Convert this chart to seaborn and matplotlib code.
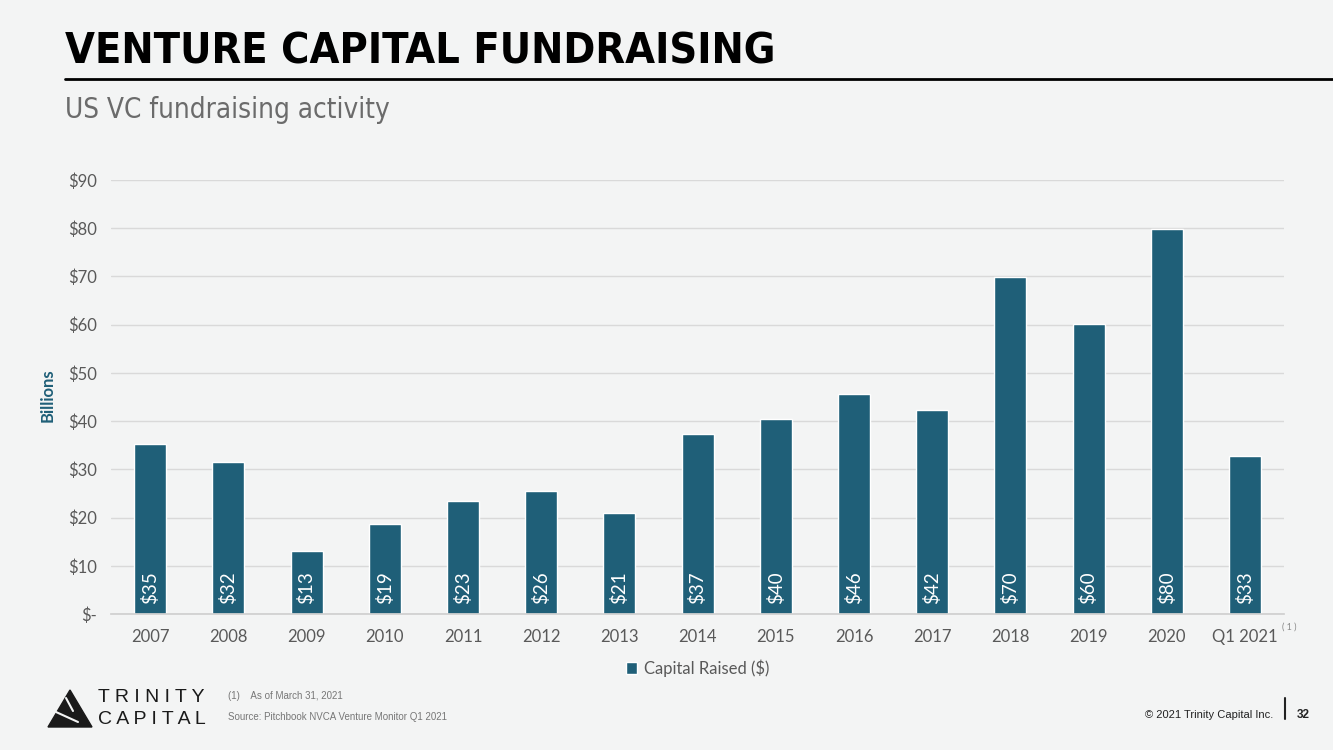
import pandas as pd
import matplotlib.pyplot as plt
import seaborn as sns
from matplotlib.patches import Polygon

# chart data (billions USD)
years = ['2007', '2008', '2009', '2010', '2011', '2012', '2013', '2014',
         '2015', '2016', '2017', '2018', '2019', '2020', 'Q1 2021']
capital = [35.3, 31.6, 13.0, 18.7, 23.4, 25.6, 21.0, 37.3,
           40.4, 45.6, 42.3, 69.8, 60.1, 79.8, 32.7]
bar_labels = ['$35', '$32', '$13', '$19', '$23', '$26', '$21', '$37',
              '$40', '$46', '$42', '$70', '$60', '$80', '$33']
y_ticks = [0, 10, 20, 30, 40, 50, 60, 70, 80, 90]
y_tick_labels = ['$-', '$10', '$20', '$30', '$40', '$50', '$60', '$70', '$80', '$90']
series_name = 'Capital Raised ($)'

BAR = '#1f5f78'
GREY = '#595959'


def main():
    df = pd.DataFrame({'year': years, 'value': capital, 'series': series_name})

    sns.set_theme(style='white')
    plt.rcParams['font.family'] = ['Lato', 'DejaVu Sans']

    fig = plt.figure(figsize=(13.33, 7.5), dpi=100, facecolor='#f3f4f4')
    ax = fig.add_axes([0.0833, 0.1813, 0.880, 0.5787])
    ax.set_facecolor('none')

    sns.barplot(data=df, x='year', y='value', hue='series', palette=[BAR],
                width=0.41, ax=ax, saturation=1)

    # rotated value labels at the base of each bar
    for i, lab in enumerate(bar_labels):
        ax.text(i, 2.0, lab, rotation=90, ha='center', va='bottom',
                color='white', fontsize=13.5)

    ax.set_ylim(0, 90)
    ax.set_yticks(y_ticks)
    ax.set_yticklabels(y_tick_labels)
    ax.grid(axis='y', color='#d9d9d9', linewidth=1)
    ax.set_axisbelow(True)
    for s in ['top', 'right', 'left']:
        ax.spines[s].set_visible(False)
    ax.spines['bottom'].set_color('#d0d0d0')
    ax.tick_params(axis='x', length=0, labelsize=12, labelcolor=GREY, pad=11)
    ax.tick_params(axis='y', length=0, labelsize=12, labelcolor=GREY, pad=10)
    ax.set_xlabel('')
    ax.set_ylabel('Billions', fontsize=12, fontweight='bold', color=BAR)
    ax.yaxis.set_label_coords(-0.047, 0.505)

    ax.legend(loc='center', bbox_to_anchor=(0.5, -0.124), frameon=False,
              fontsize=12, handlelength=0.7, handleheight=0.7, handletextpad=0.4,
              labelcolor=GREY)

    # footnote marker next to Q1 2021
    fig.text(1282 / 1333, 1 - 627 / 750, '( 1 )', fontsize=6.5, color='#8a8a8a',
             va='center', ha='left')

    # header
    fig.text(65 / 1333, 1 - 51 / 750, 'VENTURE CAPITAL FUNDRAISING',
             family='DejaVu Sans', fontstretch='condensed', fontweight='bold',
             fontsize=31, color='black', va='center', ha='left')
    fig.add_artist(plt.Line2D([65 / 1333, 1.0], [1 - 79 / 750, 1 - 79 / 750],
                              color='black', linewidth=2))
    fig.text(65 / 1333, 1 - 110 / 750, 'US VC fundraising activity',
             family='DejaVu Sans', fontstretch='condensed',
             fontsize=20, color='#6b6b6b', va='center', ha='left')

    # logo
    tri = Polygon([[48 / 1333, 1 - 727 / 750], [70 / 1333, 1 - 690 / 750],
                   [92 / 1333, 1 - 727 / 750]], closed=True,
                  transform=fig.transFigure, color='#1a1a1a')
    fig.add_artist(tri)
    fig.add_artist(plt.Line2D([56 / 1333, 78 / 1333], [1 - 712 / 750, 1 - 722 / 750],
                              transform=fig.transFigure, color='#f3f4f4', linewidth=1.5))
    fig.add_artist(plt.Line2D([66 / 1333, 73 / 1333], [1 - 698 / 750, 1 - 711 / 750],
                              transform=fig.transFigure, color='#f3f4f4', linewidth=1.5))
    fig.text(98 / 1333, 1 - 698 / 750, 'T R I N I T Y', fontsize=14, color='#1a1a1a',
             va='center', ha='left', family=['Liberation Sans', 'DejaVu Sans'])
    fig.text(98 / 1333, 1 - 719 / 750, 'C A P I T A L', fontsize=14, color='#1a1a1a',
             va='center', ha='left', family=['Liberation Sans', 'DejaVu Sans'])

    # footer notes
    fig.text(228 / 1333, 1 - 696 / 750, '(1)    As of March 31, 2021', fontsize=7,
             color='#777777', va='center', ha='left',
             family=['Liberation Sans', 'DejaVu Sans'])
    fig.text(228 / 1333, 1 - 717 / 750, 'Source: Pitchbook NVCA Venture Monitor Q1 2021',
             fontsize=7, color='#777777', va='center', ha='left',
             family=['Liberation Sans', 'DejaVu Sans'])
    fig.text(1273 / 1333, 1 - 715 / 750, '\u00a9 2021 Trinity Capital Inc.', fontsize=8,
             color='#222222', va='center', ha='right',
             family=['Liberation Sans', 'DejaVu Sans'])
    fig.add_artist(plt.Line2D([1285 / 1333, 1285 / 1333], [1 - 698 / 750, 1 - 719 / 750],
                              color='#222222', linewidth=1.5))
    fig.text(1297 / 1333, 1 - 715 / 750, '32', fontsize=8.5, fontweight='bold',
             color='#222222', va='center', ha='left',
             family=['Liberation Sans', 'DejaVu Sans'])

    plt.savefig('out.png', dpi=100, facecolor=fig.get_facecolor())


if __name__ == "__main__":
    main()
